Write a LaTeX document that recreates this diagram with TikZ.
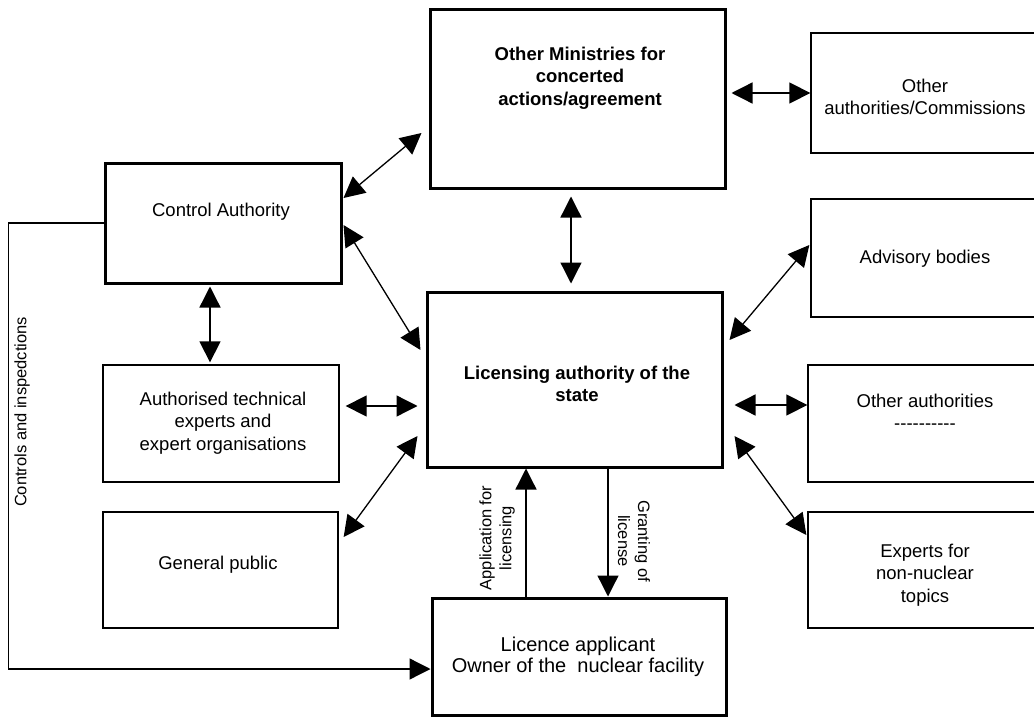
\documentclass[tikz,border=0pt]{standalone}
\usepackage{fontspec}
\setmainfont{Liberation Sans}
\usetikzlibrary{arrows.meta}
\begin{document}
\begin{tikzpicture}[x=1pt,y=-1pt,
  boxthick/.style={draw, line width=3pt, rectangle, inner sep=0pt},
  boxthin/.style={draw, line width=1.3pt, rectangle, inner sep=0pt},
  txt/.style={align=center, font=\fontsize{18.5}{22.5}\selectfont, inner sep=0pt},
  btxt/.style={align=center, font=\fontsize{18.5}{22.5}\selectfont\bfseries, inner sep=0pt},
  lbl/.style={align=center, font=\fontsize{16.5}{20}\selectfont, inner sep=0pt},
  link/.style={line width=1.3pt, {Triangle[length=21pt,width=21pt]}-{Triangle[length=21pt,width=21pt]}},
  feed/.style={line width=1.3pt, -{Triangle[length=21pt,width=21pt]}}
]
\useasboundingbox (0,0) rectangle (1034,717);

% boxes
\node[boxthick, minimum width=295pt, minimum height=178pt] (min)  at (577.5,99)  {};
\node[boxthin,  minimum width=229pt, minimum height=120pt] (oac)  at (925.5,93)  {};
\node[boxthin,  minimum width=229pt, minimum height=118pt] (adv)  at (925.5,258) {};
\node[boxthin,  minimum width=232pt, minimum height=117pt] (oth)  at (924,423.5) {};
\node[boxthin,  minimum width=232pt, minimum height=116pt] (exp)  at (924,570)   {};
\node[boxthick, minimum width=236pt, minimum height=120pt] (ctrl) at (223,223)   {};
\node[boxthin,  minimum width=236pt, minimum height=117pt] (ate)  at (221,423.5) {};
\node[boxthin,  minimum width=235pt, minimum height=116pt] (pub)  at (220.5,570) {};
\node[boxthick, minimum width=295pt, minimum height=175pt] (lic)  at (574.5,379.5) {};
\node[boxthick, minimum width=294pt, minimum height=117pt] (app)  at (579,656.5) {};

% box texts
\node[btxt] (mintxt)  at (580,78)  {Other Ministries for\\concerted\\actions/agreement};
\node[txt]  (oactxt)  at (925,97)  {Other\\authorities/Commissions};
\node[txt]  (advtxt)  at (925,259) {Advisory bodies};
\node[txt]  (othtxt)  at (925,412) {Other authorities\\-{}-{}-{}-{}-{}-{}-{}-{}-{}-};
\node[txt]  (exptxt)  at (925,575) {Experts for\\non-nuclear\\topics};
\node[txt]  (ctrltxt) at (221,212) {Control Authority};
\node[txt]  (atetxt)  at (223,423) {Authorised technical\\experts and\\expert organisations};
\node[txt]  (pubtxt)  at (218,565) {General public};
\node[btxt] (lictxt)  at (577,384) {Licensing authority of the\\state};
\node[txt, font=\fontsize{20}{21.5}\selectfont] (apptxt) at (578,657)
  {Licence applicant\\Owner of the \ nuclear facility};

% two-way links
\draw[link] ([xshift=5pt,yshift=6pt]min.east) -- (oac.west);
\draw[link] ([xshift=-6.5pt,yshift=-7pt]min.south) -- ([xshift=-3.5pt,yshift=7pt]lic.north);
\draw[link] ([xshift=1pt,yshift=25pt]ctrl.east) -- ([xshift=-7pt,yshift=-34pt]min.west);
\draw[link] ([xshift=1pt,yshift=-2pt]ctrl.east) -- ([xshift=-5pt,yshift=29.5pt]lic.west);
\draw[link] ([xshift=-13pt,yshift=-2pt]ctrl.south) -- ([xshift=-11pt,yshift=2pt]ate.north);
\draw[link] ([xshift=6pt,yshift=17.5pt]ate.east) -- ([xshift=-8pt,yshift=-26.5pt]lic.west);
\draw[link] ([xshift=5pt,yshift=33pt]pub.east) -- ([xshift=-8pt,yshift=-56.5pt]lic.west);
\draw[link] ([xshift=-1pt,yshift=13pt]adv.west) -- ([xshift=6pt,yshift=39.5pt]lic.east);
\draw[link] ([xshift=11pt,yshift=-25.5pt]lic.east) -- ([yshift=18.5pt]oth.west);
\draw[link] ([xshift=11pt,yshift=-56.5pt]lic.east) -- ([xshift=-1pt,yshift=35pt]exp.west);

% licensing flow
\draw[feed] ([xshift=-53pt]app.north) -- ([xshift=-48.5pt]lic.south);
\draw[feed] ([xshift=33.5pt]lic.south) -- ([xshift=29pt]app.north);
\node[lbl, rotate=90]  (applbl)   at (497,538) {Application for\\licensing};
\node[lbl, rotate=-90] (grantlbl) at (634,541) {Granting of\\license};

% controls and inspections
\draw[feed] (ctrl.west) -- ++(-95,0) |- ([yshift=-12.5pt]app.west);
\node[lbl, rotate=90] (ctrllbl) at (22,412) {Controls and inspedctions};
\end{tikzpicture}
\end{document}
